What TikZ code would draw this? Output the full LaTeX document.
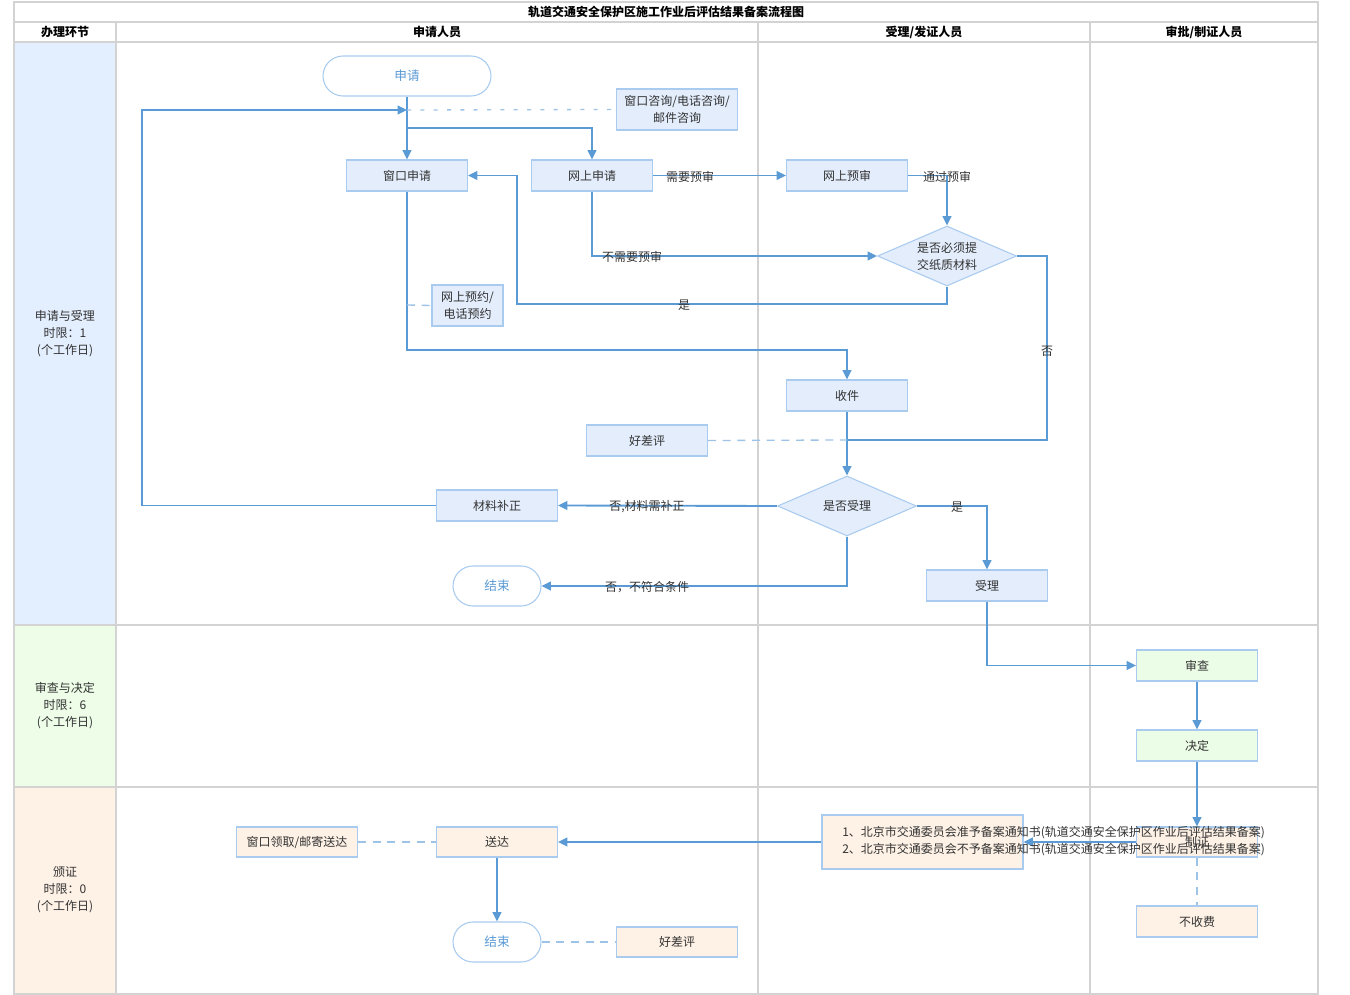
\documentclass[tikz,border=0pt]{standalone}
\usepackage{fontspec}
\setmainfont{Noto Sans CJK SC}
\usetikzlibrary{arrows.meta,shapes.geometric}
\definecolor{ln}{HTML}{5B9BD5}
\definecolor{dl}{HTML}{9DC3E6}
\definecolor{bb}{HTML}{A9CBEF}
\definecolor{fb}{HTML}{E3EDFC}
\definecolor{fg}{HTML}{EBFDE6}
\definecolor{fp}{HTML}{FEF2E6}
\definecolor{gridc}{HTML}{D3D3D3}
\definecolor{tx}{HTML}{333333}
\definecolor{lb}{HTML}{E3EEFE}
\definecolor{lg}{HTML}{EDFDE8}
\definecolor{lp}{HTML}{FEF1E6}
\begin{document}
\begin{tikzpicture}[x=0.75pt,y=-0.75pt,
  font=\fontsize{9}{12.75}\selectfont,
  gridline/.style={draw=gridc, line width=1.4pt},
  box/.style={draw=bb, line width=0.8pt, fill=fb, text=tx, align=center,
    minimum width=0.75pt*121, minimum height=0.75pt*31, inner sep=1pt},
  gbox/.style={box, fill=fg},
  pbox/.style={box, fill=fp},
  term/.style={draw=bb, line width=0.8pt, fill=white, text=ln, rounded corners=15pt,
    minimum height=0.75pt*40, inner sep=1pt, font=\fontsize{9.5}{12}\selectfont},
  dia/.style={diamond, aspect=2.3, draw=bb, line width=0.8pt, fill=fb, text=tx,
    align=center, inner sep=0pt, minimum width=0.75pt*139, minimum height=0.75pt*60},
  arr/.style={draw=ln, line width=1.4pt, -{Triangle[length=7pt,width=6.5pt]}},
  con/.style={draw=ln, line width=1.4pt},
  dsh/.style={draw=dl, line width=1pt, dash pattern=on 6pt off 5pt},
  dshs/.style={draw=dl, line width=1pt, dash pattern=on 3pt off 7pt},
  lbl/.style={text=tx, inner sep=0pt},
  hdr/.style={text=black, inner sep=0pt, font=\fontsize{9}{10}\selectfont\bfseries},
  lane/.style={text=tx, align=center, inner sep=0pt}]
\useasboundingbox (0,0) rectangle (1350,995);
% lane backgrounds
\fill[lb] (14,42) rectangle (116,625);
\fill[lg] (14,625) rectangle (116,787);
\fill[lp] (14,787) rectangle (116,994);
% grid
\draw[gridline] (14,2) rectangle (1318,994);
\draw[gridline] (14,22) -- (1318,22);
\draw[gridline] (14,42) -- (1318,42);
\draw[gridline] (14,625) -- (1318,625);
\draw[gridline] (14,787) -- (1318,787);
\draw[gridline] (116,22) -- (116,994);
\draw[gridline] (758,22) -- (758,994);
\draw[gridline] (1090,22) -- (1090,994);
% headers
\node[hdr] (title) at (666,12) {轨道交通安全保护区施工作业后评估结果备案流程图};
\node[hdr] (h1) at (65,32) {办理环节};
\node[hdr] (h2) at (437,32) {申请人员};
\node[hdr] (h3) at (924,32) {受理/发证人员};
\node[hdr] (h4) at (1204,32) {审批/制证人员};
\node[lane] (l1) at (65,334) {申请与受理\\时限：1\\(个工作日)};
\node[lane] (l2) at (65,706) {审查与决定\\时限：6\\(个工作日)};
\node[lane] (l3) at (65,890) {颁证\\时限：0\\(个工作日)};
% nodes
\node[term, minimum width=0.75pt*168] (s1) at (407,76) {申请};
\node[box, minimum height=0.75pt*41] (zx) at (677,109.5) {窗口咨询/电话咨询/\\邮件咨询};
\node[box] (wk) at (407,175.5) {窗口申请};
\node[box] (ws) at (592,175.5) {网上申请};
\node[box] (ys) at (847,175.5) {网上预审};
\node[dia] (d1) at (947,256) {是否必须提\\交纸质材料};
\node[box, minimum width=0.75pt*71, minimum height=0.75pt*41] (yy) at (467.5,305.5) {网上预约/\\电话预约};
\node[box] (sj) at (847,395.5) {收件};
\node[box] (hp1) at (647,440.5) {好差评};
\node[dia] (d2) at (847,506) {是否受理};
\node[box] (bz) at (497,505.5) {材料补正};
\node[box] (sl) at (987,585.5) {受理};
\node[term, minimum width=0.75pt*88] (e1) at (497,586) {结束};
\node[gbox] (sc) at (1197,665.5) {审查};
\node[gbox] (jd) at (1197,745.5) {决定};
\node[pbox, minimum height=0.75pt*30] (zz) at (1197,842) {制证};
\node[pbox] (bs) at (1197,921.5) {不收费};
\node[pbox, minimum width=0.75pt*201, minimum height=0.75pt*54] (doc) at (922.5,842) {};
\node[pbox, minimum height=0.75pt*30] (sd) at (497,842) {送达};
\node[pbox, minimum height=0.75pt*30] (lq) at (297,842) {窗口领取/邮寄送达};
\node[term, minimum width=0.75pt*88] (e2) at (497,942) {结束};
\node[pbox, minimum height=0.75pt*30] (hp2) at (677,942) {好差评};
% helper coordinates
\coordinate (b1) at (407,128);
\coordinate (j1) at (407,110);
\coordinate (j2) at (847,440);
\coordinate (j3) at (407,305);
% connectors
\draw[arr] (s1.south) -- (wk.north);
\draw[arr] (b1) -| (ws.north);
\draw[arr] (bz.west) -| (142,110) -- (j1);
\draw[dshs] (j1) -- (zx.west);
\draw[arr] (ws.east) -- (ys.west);
\draw[arr] (ys.east) -| (d1.north);
\draw[arr] (ws.south) |- (d1.west);
\draw[arr] (d1.south) |- (517,304) |- (wk.east);
\draw[con] (d1.east) -| (1047,440) -- (j2);
\draw[arr] (wk.south) |- (847,350) -- (sj.north);
\draw[dsh] (j3) -- (yy.west);
\draw[arr] (sj.south) -- (d2.north);
\draw[dsh] (hp1.east) -- (j2);
\draw[arr] (d2.west) -- (bz.east);
\draw[arr] (d2.east) -| (sl.north);
\draw[arr] (d2.south) |- (e1.east);
\draw[arr] (sl.south) |- (sc.west);
\draw[arr] (sc.south) -- (jd.north);
\draw[arr] (jd.south) -- (zz.north);
\draw[arr] (zz.west) -- (doc.east);
\draw[dsh] (zz.south) -- (bs.north);
\draw[arr] (doc.west) -- (sd.east);
\draw[dsh] (lq.east) -- (sd.west);
\draw[arr] (sd.south) -- (e2.north);
\draw[dsh] (e2.east) -- (hp2.west);
% labels
\node[lbl] (t1) at (690,177) {需要预审};
\node[lbl] (t2) at (947,177) {通过预审};
\node[lbl] (t3) at (632,257) {不需要预审};
\node[lbl] (t4) at (684,305) {是};
\node[lbl] (t5) at (1047,351) {否};
\node[lbl] (t6) at (647,507) {否,材料需补正};
\node[lbl] (t7) at (957,507) {是};
\node[lbl] (t8) at (647,587) {否，不符合条件};
\node[lbl, anchor=west, align=left] (doctext) at (842,841)
  {1、北京市交通委员会准予备案通知书(轨道交通安全保护区作业后评估结果备案)\\2、北京市交通委员会不予备案通知书(轨道交通安全保护区作业后评估结果备案)};
\end{tikzpicture}
\end{document}
